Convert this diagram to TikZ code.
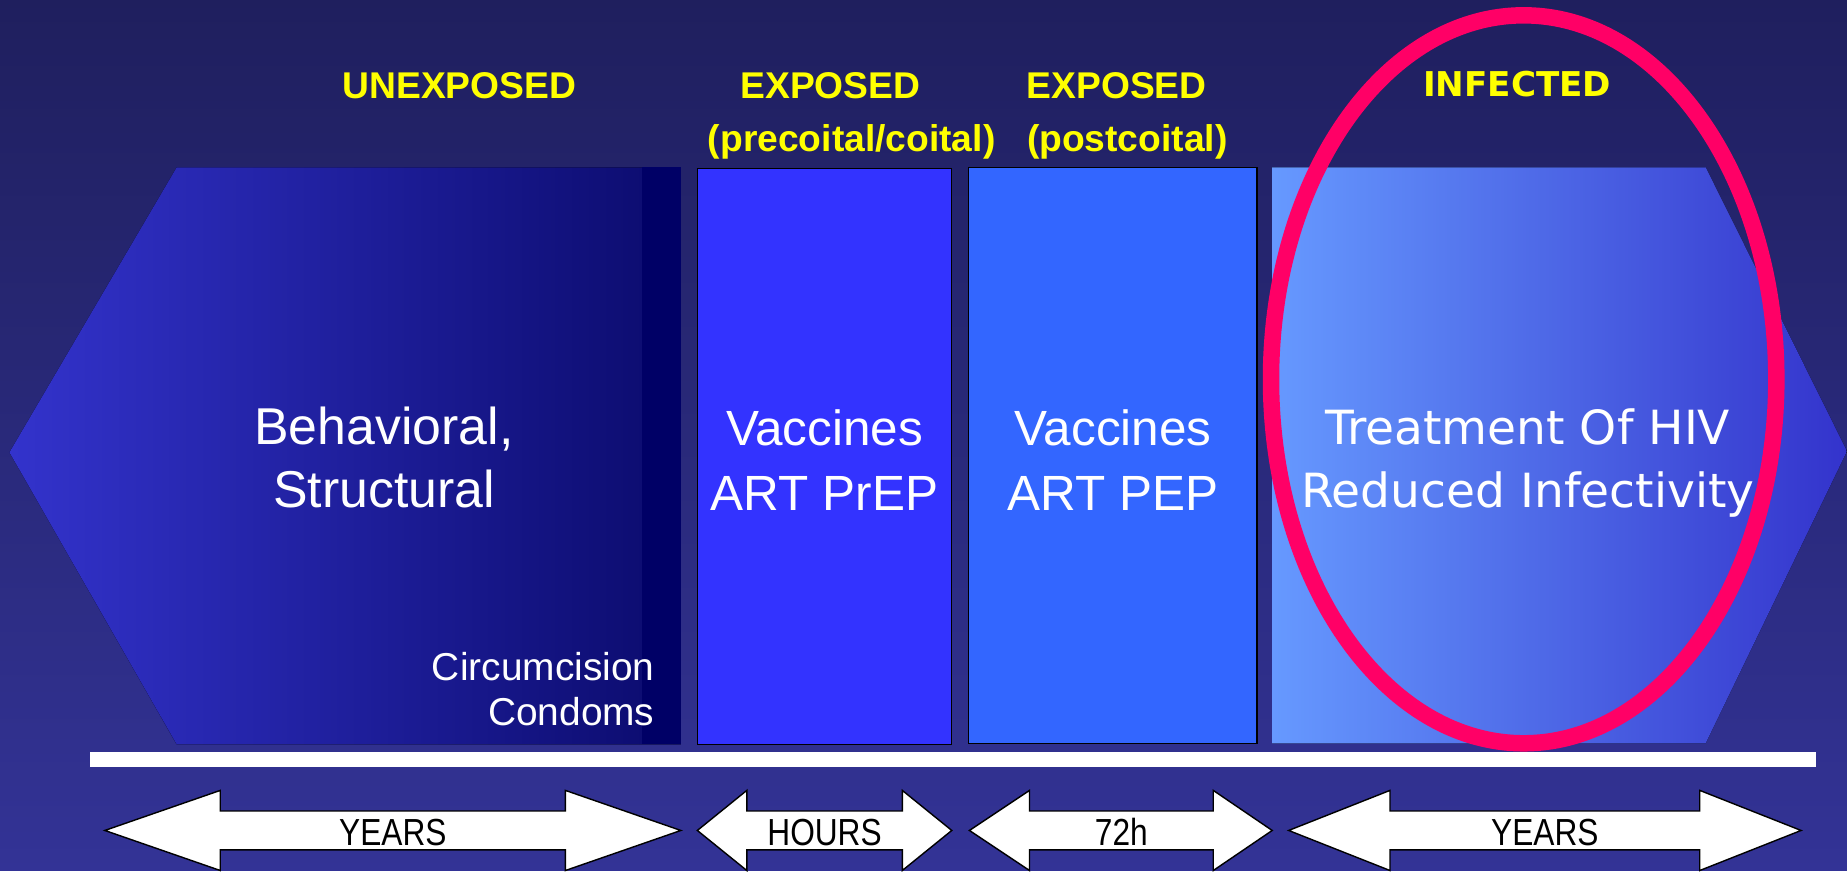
\documentclass[tikz,border=0pt]{standalone}
\usepackage{fontspec}
\setmainfont{Liberation Sans}
\newfontfamily\widefont{DejaVu Sans}
\newfontfamily\narrowfont[FakeStretch=0.84]{Liberation Sans}
\definecolor{bgtop}{HTML}{1F1F5E}
\definecolor{bgbottom}{HTML}{333396}
\definecolor{behavleft}{HTML}{3333CC}
\definecolor{behavright}{HTML}{0B0B6D}
\definecolor{behavstrip}{HTML}{000066}
\definecolor{prepblue}{HTML}{3333FF}
\definecolor{pepblue}{HTML}{3366FF}
\definecolor{treatleft}{HTML}{6699FF}
\definecolor{treatright}{HTML}{3333CC}
\definecolor{ringpink}{HTML}{FF0066}
\definecolor{phaseyellow}{HTML}{FFFF00}

% double-headed time span: left tip, shaft start, shaft end, right tip, name, label
\newcommand\spanarrow[6]{%
    \draw[spanarr] (#1,705) -- (#2,671) -- (#2,688.5) -- (#3,688.5) -- (#3,671)
        -- (#4,705) -- (#3,739) -- (#3,721.5) -- (#2,721.5) -- (#2,739) -- cycle;
    \node[spanlabel] (#5) at ({(#2+#3)/2},718) {#6};%
}

\begin{document}
\begin{tikzpicture}[
    x=0.5pt, y=-0.5pt,
    phase/.style={
        font=\bfseries\fontsize{15.8}{19}\selectfont, text=phaseyellow,
        anchor=base, inner sep=0pt,
    },
    % base anchor of a two-line node sits on its last line
    bodytext/.style={
        font=\fontsize{22}{27}\selectfont, text=white,
        align=center, anchor=base, inner sep=0pt,
    },
    stagebox/.style={draw=black, line width=0.6pt},
    spanarr/.style={fill=white, draw=black, line width=0.6pt, line join=miter},
    spanlabel/.style={
        font=\narrowfont\fontsize{16}{19}\selectfont, text=black,
        anchor=base, inner sep=0pt,
    },
]

% -- Background --
\fill[top color=bgtop, bottom color=bgbottom] (0,0) rectangle (1568,739);

% -- Panel 1: Unexposed --
\fill[left color=behavleft, right color=behavright]
    (8,384) -- (150,142) -- (578,142) -- (578,632) -- (150,632) -- cycle;
\fill[behavstrip] (545,142) rectangle (578,632);
\node[bodytext] (behav) at (326,431) {Behavioral,\\Structural};
\node[font=\fontsize{16.5}{19}\selectfont, text=white, align=right,
    anchor=base east, inner sep=0pt] (barrier) at (556,616) {Circumcision\\Condoms};

% -- Panel 2: Precoital --
\fill[stagebox, fill=prepblue] (592,143) rectangle (808,632);
\node[bodytext, font=\fontsize{21}{27.5}\selectfont] (prep) at (700,433) {Vaccines\\ART PrEP};

% -- Panel 3: Postcoital --
\fill[stagebox, fill=pepblue] (822,142) rectangle (1067,631);
\node[bodytext, font=\fontsize{21}{27.5}\selectfont] (pep) at (945,433) {Vaccines\\ART PEP};

% -- Panel 4: Infected --
\fill[left color=treatleft, right color=treatright]
    (1080,142) -- (1448,142) -- (1568,383) -- (1448,631) -- (1080,631) -- cycle;
\node[bodytext, font=\widefont\fontsize{20}{27}\selectfont] (treat) at (1297,431)
    {Treatment Of HIV\\Reduced Infectivity};

% -- Highlight ring --
\draw[ringpink, line width=7pt] (1293.5,322) ellipse [x radius=214.5, y radius=309];

% -- Timeline bar --
\fill[white] (76,638) rectangle (1542,651);

% -- Time spans --
\spanarrow{89}{187}{480}{578}{spanunexp}{YEARS}
\spanarrow{592}{634}{766}{808}{spanpre}{HOURS}
\spanarrow{823}{874}{1030}{1080}{spanpost}{72h}
\spanarrow{1094}{1180}{1443}{1529}{spaninf}{YEARS}

% -- Phase titles --
\node[phase] (tunexp) at (390,84) {UNEXPOSED};
\node[phase] (tpre) at (705,84) {EXPOSED};
\node[phase] (tpresub) at (723,129) {(precoital/coital)};
\node[phase] (tpost) at (948,84) {EXPOSED};
\node[phase] (tpostsub) at (957,129) {(postcoital)};
\node[phase, font=\widefont\bfseries\fontsize{14.5}{18}\selectfont] (tinf) at (1288,82) {INFECTED};

\end{tikzpicture}
\end{document}
